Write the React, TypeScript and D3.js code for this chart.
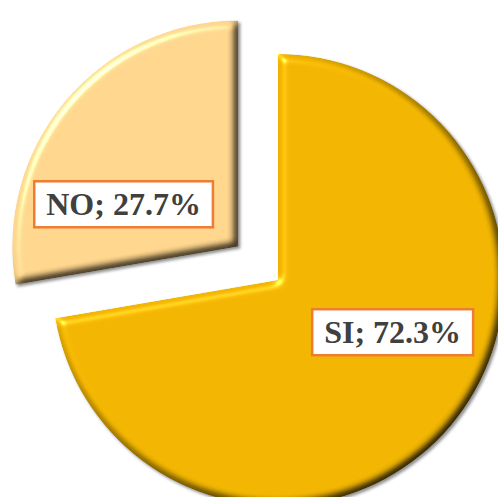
import { useEffect } from "react"
import * as d3 from "d3"

const categories = ["SI", "NO"]
const values = [72.3, 27.7]
const colors = ["#F0B400", "#FDD48C"]
const labels = ["SI; 72.3%", "NO; 27.7%"]
const exploded = [false, true]

const width = 498
const height = 497
const cx = 278
const cy = 280
const radius = 226
const explodeBy = 52
const labelRadius = 124
const labelShift = -0.31
const labelDy = 5
const font = "bold 32px 'Liberation Serif'"

function measure(text: string) {
  const ctx = document.createElement("canvas").getContext("2d")
  if (!ctx) return text.length * 16
  ctx.font = font
  return ctx.measureText(text).width
}

export default function App() {
  useEffect(() => {
    document.body.style.margin = "0"
  }, [])

  const pie = d3
    .pie<number>()
    .sort(null)
    .value((d) => d)
  const arcs = pie(values)
  const arc = d3.arc<d3.PieArcDatum<number>>().innerRadius(0).outerRadius(radius)

  return (
    <svg width={width} height={height} style={{ display: "block", background: "#fff" }}>
      <defs>
        <filter id="bevel" x="-10%" y="-10%" width="125%" height="125%" colorInterpolationFilters="sRGB">
          <feGaussianBlur in="SourceAlpha" stdDeviation="4.5" result="blur" />
          <feDiffuseLighting in="blur" surfaceScale="6" diffuseConstant="1.16" lightingColor="#fff" result="diff">
            <feDistantLight azimuth="225" elevation="60" />
          </feDiffuseLighting>
          <feComposite in="SourceGraphic" in2="diff" operator="arithmetic" k1="1" result="shaded" />
          <feSpecularLighting
            in="blur"
            surfaceScale="6"
            specularConstant="0.8"
            specularExponent="30"
            lightingColor="#fff"
            result="spec"
          >
            <feDistantLight azimuth="225" elevation="35" />
          </feSpecularLighting>
          <feComposite in="spec" in2="SourceAlpha" operator="in" result="specIn" />
          <feComposite in="shaded" in2="specIn" operator="arithmetic" k2="1" k3="0.5" result="lit" />
          <feComposite in="lit" in2="SourceAlpha" operator="in" result="clip" />
          <feGaussianBlur in="SourceAlpha" stdDeviation="1.8" result="sblur" />
          <feOffset in="sblur" dx="2" dy="2" result="soff" />
          <feFlood floodColor="#6b6b6b" floodOpacity="0.75" />
          <feComposite in2="soff" operator="in" result="shadow" />
          <feMerge>
            <feMergeNode in="shadow" />
            <feMergeNode in="clip" />
          </feMerge>
        </filter>
      </defs>
      {arcs.map((a, i) => {
        const mid = (a.startAngle + a.endAngle) / 2
        const off = exploded[i] ? explodeBy : 0
        const ox = cx + Math.sin(mid) * off
        const oy = cy - Math.cos(mid) * off
        return (
          <g key={categories[i]} transform={`translate(${ox},${oy})`}>
            <path d={arc(a) ?? ""} fill={colors[i]} filter="url(#bevel)" />
          </g>
        )
      })}
      {arcs.map((a, i) => {
        const mid = (a.startAngle + a.endAngle) / 2
        const off = exploded[i] ? explodeBy : 0
        const ox = cx + Math.sin(mid) * off
        const oy = cy - Math.cos(mid) * off
        const la = mid + labelShift
        const lx = ox + Math.sin(la) * labelRadius
        const ly = oy - Math.cos(la) * labelRadius + labelDy
        const w = measure(labels[i]) + 24
        const h = 46
        return (
          <g key={"label-" + categories[i]} transform={`translate(${lx},${ly})`}>
            <rect x={-w / 2} y={-h / 2} width={w} height={h} fill="#fff" stroke="#ED7D31" strokeWidth={2.5} />
            <text textAnchor="middle" dy="0.35em" fill="#404040" style={{ font }}>
              {labels[i]}
            </text>
          </g>
        )
      })}
    </svg>
  )
}
